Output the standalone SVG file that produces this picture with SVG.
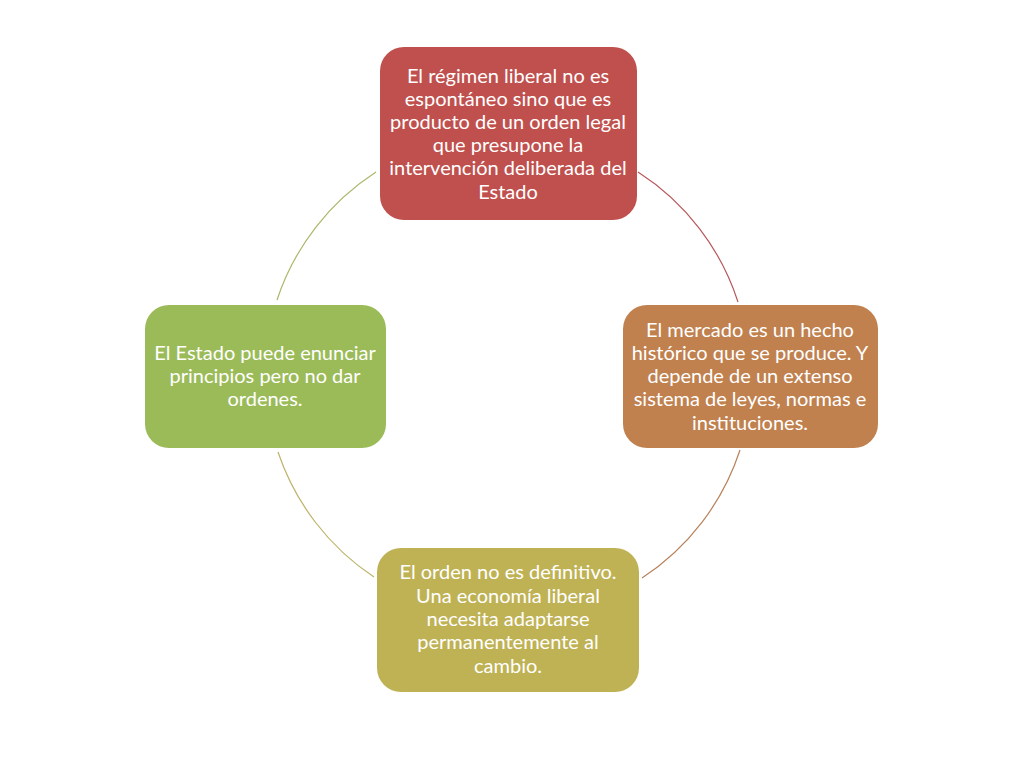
<svg xmlns="http://www.w3.org/2000/svg" width="1024" height="768" viewBox="0 0 1024 768">
<style>
.t{font-family:Lato,"Open Sans","Liberation Sans",sans-serif;font-size:20px;fill:#ffffff;text-anchor:middle}
.c{fill:none;stroke-width:1.2}
</style>
<rect width="1024" height="768" fill="#ffffff"/>
<g id="connectors">
<path class="c" stroke="#B9575A" d="M638,172 A243,243 0 0 1 738,302"/>
<path class="c" stroke="#B9815A" d="M740,450 A243,243 0 0 1 642,578"/>
<path class="c" stroke="#BDB36A" d="M374,577 A243,243 0 0 1 278,452"/>
<path class="c" stroke="#AAB86A" d="M277,300 A243,243 0 0 1 376,172"/>
</g>
<g id="node-top">
<rect x="380" y="47" width="257" height="173" rx="24" fill="#C0504D"/>
<text class="t"><tspan x="508" y="83">El régimen liberal no es</tspan><tspan x="508" y="106">espontáneo sino que es</tspan><tspan x="508" y="129">producto de un orden legal</tspan><tspan x="508" y="152">que presupone la</tspan><tspan x="508" y="175">intervención deliberada del</tspan><tspan x="508" y="199">Estado</tspan></text>
</g>
<g id="node-right">
<rect x="623" y="305" width="255" height="143" rx="24" fill="#C0814F"/>
<text class="t"><tspan x="750" y="337">El mercado es un hecho</tspan><tspan x="750" y="360">histórico que se produce. Y</tspan><tspan x="750" y="383">depende de un extenso</tspan><tspan x="750" y="406">sistema de leyes, normas e</tspan><tspan x="750" y="430">instituciones.</tspan></text>
</g>
<g id="node-bottom">
<rect x="377" y="548" width="262" height="144" rx="24" fill="#BFB255"/>
<text class="t"><tspan x="508" y="579">El orden no es definitivo.</tspan><tspan x="508" y="603">Una economía liberal</tspan><tspan x="508" y="626">necesita adaptarse</tspan><tspan x="508" y="649">permanentemente al</tspan><tspan x="508" y="673">cambio.</tspan></text>
</g>
<g id="node-left">
<rect x="145" y="305" width="241" height="143" rx="24" fill="#9BBB59"/>
<text class="t"><tspan x="265" y="360">El Estado puede enunciar</tspan><tspan x="265" y="383">principios pero no dar</tspan><tspan x="265" y="406">ordenes.</tspan></text>
</g>
</svg>
